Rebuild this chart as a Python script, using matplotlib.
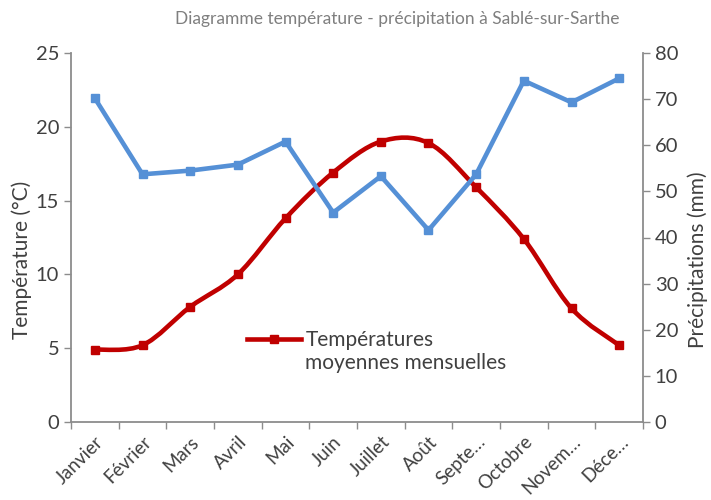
import numpy as np
import matplotlib.pyplot as plt
from matplotlib.path import Path
from matplotlib.patches import PathPatch
from matplotlib.lines import Line2D
from matplotlib.legend_handler import HandlerLine2D

plt.rcParams['font.family'] = ['Lato', 'DejaVu Sans']

mois = ['Janvier', 'Février', 'Mars', 'Avril', 'Mai', 'Juin', 'Juillet',
        'Août', 'Septe…', 'Octobre', 'Novem…', 'Déce…']
temperature = [4.9, 5.2, 7.8, 10.0, 13.8, 16.9, 19.0, 18.9, 15.9, 12.4, 7.7, 5.2]
precipitation = [70.2, 53.7, 54.5, 55.8, 60.8, 45.4, 53.3, 41.6, 53.7, 74.0, 69.3, 74.5]

rouge = '#C00000'
bleu = '#5590D6'
gris_axe = '#8C8C8C'
gris_txt = '#404040'


def smooth_path(x, y):
    # bezier like the "smoothed line" option of a spreadsheet
    pts = np.column_stack([x, y]).astype(float)
    p = np.vstack([pts[:1], pts, pts[-1:]])
    verts = [pts[0]]
    codes = [Path.MOVETO]
    for i in range(1, len(p) - 2):
        c1 = p[i] + (p[i + 1] - p[i - 1]) / 6
        c2 = p[i + 1] - (p[i + 2] - p[i]) / 6
        verts += [c1, c2, p[i + 1]]
        codes += [Path.CURVE4] * 3
    return Path(verts, codes)


class HandlerUp(HandlerLine2D):
    # put the legend key level with the first line of the label
    def create_artists(self, legend, orig_handle, xdescent, ydescent,
                       width, height, fontsize, trans):
        return super().create_artists(legend, orig_handle, xdescent,
                                      ydescent - 20, width, height,
                                      fontsize, trans)


fig = plt.figure(figsize=(7.11, 5), dpi=100)
ax = fig.add_axes([71 / 711, 78 / 500, 572 / 711, 369 / 500])
ax2 = ax.twinx()

x = np.arange(len(mois))

# temperature, smoothed line
ax.add_patch(PathPatch(smooth_path(x, temperature), facecolor='none',
                       edgecolor=rouge, lw=3.3, capstyle='round'))
ax.plot(x, temperature, ls='none', marker='s', ms=6, color=rouge)

# precipitation
ax2.plot(x, precipitation, color=bleu, lw=3.3, marker='s', ms=6)

ax.set_xlim(-0.5, len(mois) - 0.5)
ax.set_ylim(0, 25)
ax2.set_ylim(0, 80)
ax.set_yticks(range(0, 26, 5))
ax2.set_yticks(range(0, 81, 10))

ax.set_xticks(x)
ax.set_xticklabels(mois, rotation=45, ha='right', rotation_mode='anchor')
ax.set_xticks(np.arange(len(mois) + 1) - 0.5, minor=True)
ax.tick_params(axis='x', which='major', length=0, pad=8)
ax.tick_params(axis='x', which='minor', length=5, color=gris_axe, width=1)

for a in (ax, ax2):
    for s in a.spines.values():
        s.set_visible(False)
    a.tick_params(axis='y', length=5, color=gris_axe, width=1,
                  labelsize=14.5, labelcolor=gris_txt)
ax.tick_params(axis='x', labelsize=13.5, labelcolor=gris_txt)
ax.spines['left'].set_visible(True)
ax.spines['bottom'].set_visible(True)
ax2.spines['right'].set_visible(True)
for s in (ax.spines['left'], ax.spines['bottom'], ax2.spines['right']):
    s.set_color(gris_axe)
    s.set_linewidth(1.3)

ax.set_ylabel('Température (°C)', fontsize=15, color=gris_txt)
ax2.set_ylabel('Précipitations (mm)', fontsize=15, color=gris_txt)
ax.yaxis.set_label_coords((32 - 71) / 572, 0.44)
ax2.yaxis.set_label_coords((687 - 71) / 572, 0.44)

fig.text(397 / 711, 0.962,
         'Diagramme température - précipitation à Sablé-sur-Sarthe',
         ha='center', va='center', fontsize=12.5, color='#7F7F7F')

handle = Line2D([], [], color=rouge, lw=3.3, marker='s', ms=6)
leg = ax.legend([handle], ['Températures\nmoyennes mensuelles'],
                handler_map={Line2D: HandlerUp()},
                loc='center left', bbox_to_anchor=(0.275, 0.19),
                frameon=False, fontsize=15, handlelength=2.6,
                handletextpad=0.2)
for t in leg.get_texts():
    t.set_color(gris_txt)

fig.savefig('out.png', dpi=100)
